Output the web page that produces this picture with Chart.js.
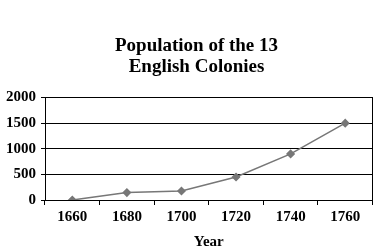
<!DOCTYPE html>
<html lang="en">
  <head>
    <meta charset="UTF-8" />
    <title>Population of the 13 English Colonies</title>
    <script src="https://cdn.jsdelivr.net/npm/chart.js"></script>
    <style>
      html, body { margin: 0; padding: 0; background: #fff; }
      #wrap { width: 378px; height: 251px; }
    </style>
  </head>
  <body>
    <div id="wrap"><canvas id="popChart" width="378" height="251"></canvas></div>

    <script>
      // data (thousands)
      const years = ["1660", "1680", "1700", "1720", "1740", "1760"];
      const population = [0, 145, 175, 450, 900, 1500];
      const yTicks = [0, 500, 1000, 1500, 2000];

      const serif = "'Liberation Serif', 'Times New Roman', serif";
      // title sits a little right of the canvas centre in the reference
      const indent = "\u2002\u2002";

      new Chart(document.getElementById("popChart").getContext("2d"), {
        type: "line",
        data: {
          labels: years,
          datasets: [
            {
              label: "Population",
              data: population,
              borderColor: "#777777",
              backgroundColor: "#777777",
              borderWidth: 1.5,
              pointStyle: "rectRot",
              pointRadius: 3.5,
              tension: 0,
            },
          ],
        },
        options: {
          responsive: false,
          animation: false,
          layout: { padding: { left: 1, right: 5, top: 35, bottom: 0 } },
          plugins: {
            legend: { display: false },
            tooltip: { enabled: false },
            title: {
              display: true,
              text: [indent + "Population of the 13", indent + "English Colonies"],
              color: "#000",
              font: { family: serif, size: 19, weight: "bold", lineHeight: 1.12 },
              padding: { top: 0, bottom: 20 },
            },
          },
          scales: {
            x: {
              offset: true,
              grid: {
                offset: true,
                drawOnChartArea: false,
                color: "#000",
                tickLength: 5,
              },
              border: { color: "#000", width: 1 },
              ticks: {
                color: "#000",
                font: { family: serif, size: 15, weight: "bold" },
                padding: 3,
                maxRotation: 0,
              },
              title: {
                display: true,
                text: "Year",
                color: "#000",
                font: { family: serif, size: 15, weight: "bold" },
                padding: { top: 4, bottom: 0 },
              },
            },
            y: {
              min: 0,
              max: 2000,
              afterBuildTicks: (axis) => {
                axis.ticks = yTicks.map((v) => ({ value: v }));
              },
              grid: { color: "#000", tickLength: 4 },
              border: { color: "#000", width: 1 },
              ticks: {
                color: "#000",
                font: { family: serif, size: 15, weight: "bold" },
                padding: 5,
                callback: (v) => String(v),
              },
            },
            y2: {
              position: "right",
              min: 0,
              max: 2000,
              grid: { drawOnChartArea: false, drawTicks: false },
              border: { color: "#000", width: 1 },
              ticks: { display: false },
            },
          },
        },
      });
    </script>
  </body>
</html>
